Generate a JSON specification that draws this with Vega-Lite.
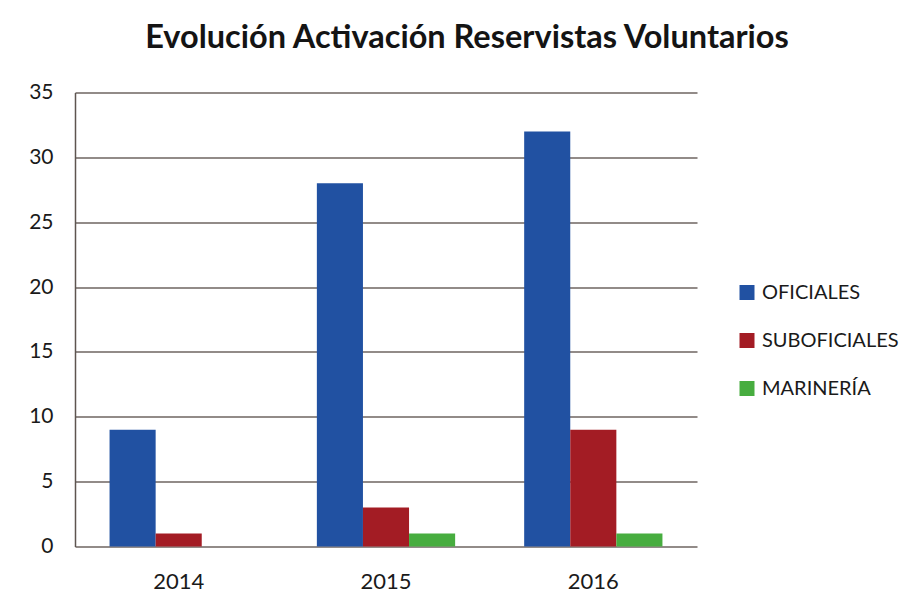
{
  "$schema": "https://vega.github.io/schema/vega-lite/v6.json",
  "width": 622,
  "height": 454,
  "autosize": {"type": "none"},
  "padding": {"left": 75, "top": 92.5, "right": 224, "bottom": 60.5},
  "background": "white",
  "title": {
    "text": "Evolución Activación Reservistas Voluntarios",
    "font": "Lato",
    "fontSize": 32.5,
    "fontWeight": "bold",
    "color": "#141414",
    "anchor": "middle",
    "dx": 81,
    "offset": 27
  },
  "data": {
    "values": [
      {"year": "2014", "cat": "OFICIALES", "value": 9},
      {"year": "2014", "cat": "SUBOFICIALES", "value": 1},
      {"year": "2014", "cat": "MARINERÍA", "value": 0},
      {"year": "2015", "cat": "OFICIALES", "value": 28},
      {"year": "2015", "cat": "SUBOFICIALES", "value": 3},
      {"year": "2015", "cat": "MARINERÍA", "value": 1},
      {"year": "2016", "cat": "OFICIALES", "value": 32},
      {"year": "2016", "cat": "SUBOFICIALES", "value": 9},
      {"year": "2016", "cat": "MARINERÍA", "value": 1}
    ]
  },
  "mark": {"type": "bar"},
  "encoding": {
    "x": {
      "field": "year",
      "type": "nominal",
      "scale": {"paddingInner": 0.333, "paddingOuter": 0.1667},
      "axis": {
        "title": null,
        "labelAngle": 0,
        "labelFont": "Lato",
        "labelFontSize": 22,
        "labelColor": "#1a1a1a",
        "labelPadding": 25,
        "ticks": false,
        "domain": false,
        "grid": false
      }
    },
    "xOffset": {
      "field": "cat",
      "type": "nominal",
      "sort": ["OFICIALES", "SUBOFICIALES", "MARINERÍA"],
      "scale": {"paddingInner": 0, "paddingOuter": 0}
    },
    "y": {
      "field": "value",
      "type": "quantitative",
      "scale": {"domain": [0, 35], "nice": false},
      "axis": {
        "title": null,
        "values": [0, 5, 10, 15, 20, 25, 30, 35],
        "labelFont": "Lato",
        "labelFontSize": 21,
        "labelColor": "#1a1a1a",
        "labelPadding": 22,
        "ticks": false,
        "domain": true,
        "domainColor": "#5e5550",
        "domainWidth": 1.5,
        "grid": true,
        "gridColor": "#6e6460",
        "gridWidth": 1.5,
        "gridOpacity": 1
      }
    },
    "color": {
      "field": "cat",
      "type": "nominal",
      "sort": ["OFICIALES", "SUBOFICIALES", "MARINERÍA"],
      "scale": {
        "domain": ["OFICIALES", "SUBOFICIALES", "MARINERÍA"],
        "range": ["#2151A2", "#A31C24", "#47AD3F"]
      },
      "legend": {
        "title": null,
        "orient": "none",
        "legendX": 662,
        "legendY": 190,
        "symbolType": "square",
        "symbolSize": 225,
        "symbolStrokeWidth": 0,
        "symbolOpacity": 1,
        "labelFont": "Lato",
        "labelFontSize": 20,
        "labelColor": "#1a1a1a",
        "labelOffset": 5,
        "rowPadding": 28
      }
    }
  },
  "config": {
    "view": {"stroke": null},
    "axis": {"gridDash": []}
  }
}
